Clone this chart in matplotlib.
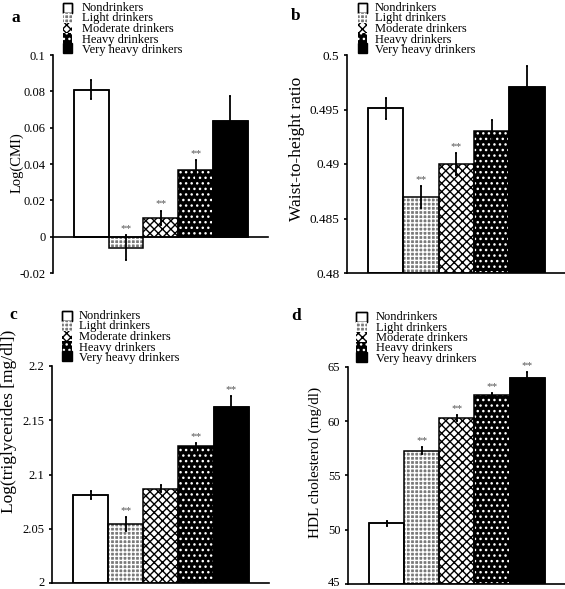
import matplotlib
matplotlib.use("Agg")
import matplotlib.pyplot as plt
import matplotlib.transforms as mtransforms
from matplotlib.patches import Rectangle
import numpy as np

plt.rcParams['font.family'] = ['Liberation Serif', 'DejaVu Serif']
plt.rcParams['hatch.linewidth'] = 1.0

groups = ['Nondrinkers', 'Light drinkers', 'Moderate drinkers',
          'Heavy drinkers', 'Very heavy drinkers']

cmi = [0.081, -0.006, 0.0103, 0.0367, 0.0637]
cmi_err = [0.005, 0.007, 0.004, 0.0055, 0.014]
cmi_sig = [False, True, True, True, False]

whtr = [0.4951, 0.4870, 0.4900, 0.4930, 0.4971]
whtr_err = [0.001, 0.001, 0.001, 0.001, 0.0019]
whtr_sig = [False, True, True, False, False]

tg = [2.081, 2.054, 2.087, 2.126, 2.162]
tg_err = [0.0034, 0.0064, 0.0034, 0.003, 0.0104]
tg_sig = [False, True, False, True, True]

hdl = [50.6, 57.3, 60.3, 62.4, 64.0]
hdl_err = [0.25, 0.35, 0.25, 0.2, 0.55]
hdl_sig = [False, True, True, True, True]

W, H = 565, 589
fig = plt.figure(figsize=(W / 100, H / 100), dpi=100)

styles = [
    dict(facecolor='white', edgecolor='black', hatch=None),
    dict(facecolor='#7a7a7a', edgecolor='white', hatch='++++'),
    dict(facecolor='white', edgecolor='black', hatch='xxxx'),
    dict(facecolor='black', edgecolor='white', hatch='...'),
    dict(facecolor='black', edgecolor='black', hatch=None),
]


def px2fig(x, y):
    return x / W, 1 - y / H


def legend(px, top, tx):
    for i, (g, st) in enumerate(zip(groups, styles)):
        x0, y0 = px2fig(px[0], top + (i + 1) * 10)
        rect = Rectangle((x0, y0), (px[1] - px[0]) / W, 10 / H,
                         transform=fig.transFigure,
                         facecolor=st['facecolor'],
                         edgecolor=st['edgecolor'], hatch=st['hatch'],
                         linewidth=0 if st['hatch'] else 1.0)
        fig.add_artist(rect)
        if i == 0:
            fig.add_artist(Rectangle((x0, y0), (px[1] - px[0]) / W, 10 / H,
                                     transform=fig.transFigure, fill=False,
                                     edgecolor='black', linewidth=1.0))
        fx, fy = px2fig(tx, top + 5 + i * 10.5)
        fig.text(fx, fy, g, fontsize=9, ha='left', va='center')


def panel(rect_px, vals, errs, sig, ylim, yticks, yticklabels, ylabel,
          ylsize, ylabel_xy, letter, letter_xy, leg_px, leg_top, leg_tx,
          base=None, lift_bottom=False, ticksize=9):
    l, r, t, b = rect_px
    ax = fig.add_axes([l / W, 1 - b / H, (r - l) / W, (b - t) / H])
    x = np.arange(len(vals))
    bottom = ylim[0] if base is None else base
    for i, (v, st) in enumerate(zip(vals, styles)):
        ax.bar(x[i], v - bottom, bottom=bottom, width=1.0,
               facecolor=st['facecolor'], edgecolor=st['edgecolor'],
               hatch=st['hatch'], linewidth=0 if st['hatch'] else 1.1,
               zorder=2)
        ax.bar(x[i], v - bottom, bottom=bottom, width=1.0, fill=False,
               edgecolor='black', linewidth=1.1, zorder=3)
    ax.errorbar(x, vals, yerr=errs, fmt='none', ecolor='black',
                elinewidth=1.3, capsize=1.0, capthick=1.3, zorder=4)
    for i in range(len(vals)):
        if sig[i]:
            top = vals[i] + errs[i]
            ax.annotate('**', (x[i], top), xytext=(0, 1.5),
                        textcoords='offset points', ha='center',
                        va='bottom', fontsize=8, color='#555555', zorder=5)
    ax.set_xlim(-1.1, 5.08)
    ax.set_ylim(*ylim)
    ax.set_yticks(yticks)
    ax.set_yticklabels(yticklabels, fontsize=ticksize)
    ax.set_xticks([])
    ax.spines['top'].set_visible(False)
    ax.spines['right'].set_visible(False)
    for s in ('left', 'bottom'):
        ax.spines[s].set_linewidth(1.2)
    if base is not None:
        ax.spines['bottom'].set_position(('data', base))
    ax.tick_params(axis='y', direction='out', length=2.5, width=1.2, pad=3)
    if lift_bottom:
        lab = ax.get_yticklabels()[0]
        lab.set_transform(lab.get_transform() +
                          mtransforms.ScaledTranslation(0, 2 / 100,
                                                        fig.dpi_scale_trans))
    ax.set_ylabel(ylabel, fontsize=ylsize)
    ax.yaxis.set_label_coords((ylabel_xy[0] - l) / (r - l),
                              (b - ylabel_xy[1]) / (b - t))
    fx, fy = px2fig(*letter_xy)
    fig.text(fx, fy, letter, fontsize=12.5, fontweight='bold',
             ha='center', va='center')
    legend(leg_px, leg_top, leg_tx)
    return ax


panel((53, 268, 55, 273), cmi, cmi_err, cmi_sig, (-0.02, 0.1),
      [-0.02, 0, 0.02, 0.04, 0.06, 0.08, 0.1],
      ['-0.02', '0', '0.02', '0.04', '0.06', '0.08', '0.1'],
      'Log(CMI)', 10.5, (24, 163), 'a', (16, 18), (63, 72), 3, 82, base=0)

panel((347, 565, 55, 273), whtr, whtr_err, whtr_sig, (0.48, 0.5),
      [0.48, 0.485, 0.49, 0.495, 0.5],
      ['0.48', '0.485', '0.49', '0.495', '0.5'],
      'Waist-to-height ratio', 12.5, (305, 149), 'b', (296, 16),
      (358, 367), 3, 375, ticksize=9.5)

panel((52, 269, 366, 583), tg, tg_err, tg_sig, (2.0, 2.2),
      [2.0, 2.05, 2.1, 2.15, 2.2],
      ['2', '2.05', '2.1', '2.15', '2.2'],
      'Log(triglycerides [mg/dl])', 12.5, (17, 421), 'c', (13, 315),
      (62, 72), 311, 79, lift_bottom=True)

panel((348, 565, 367, 584), hdl, hdl_err, hdl_sig, (45, 65),
      [45, 50, 55, 60, 65],
      ['45', '50', '55', '60', '65'],
      'HDL cholesterol (mg/dl)', 11, (322, 462), 'd', (296, 316),
      (356, 367), 312, 376, lift_bottom=True)

fig.savefig('out.png', dpi=100)
